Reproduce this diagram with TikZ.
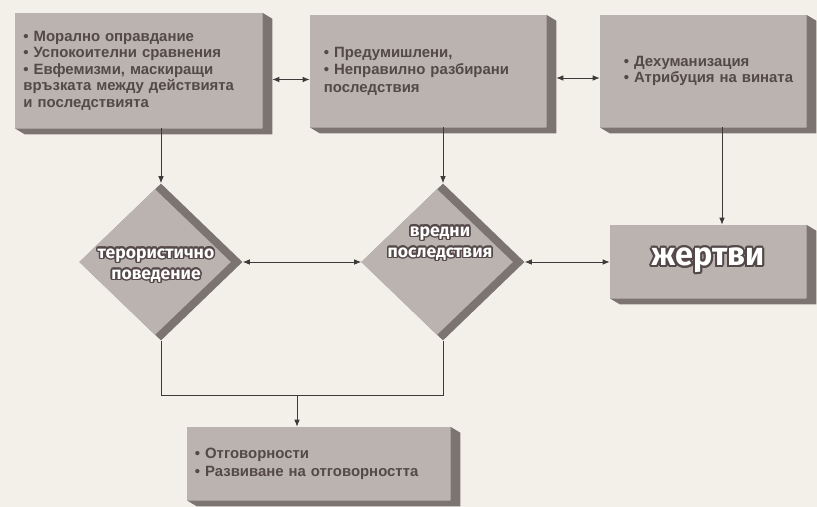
\documentclass[tikz,border=0pt]{standalone}
\usepackage{fontspec}
\setmainfont{Liberation Sans}
\newfontfamily\dfont{Fira Sans}
\usepackage{contour}
\usetikzlibrary{arrows.meta,shapes.geometric,calc,positioning}

\definecolor{paper}{HTML}{F3F0EA}
\definecolor{face}{HTML}{BAB3AF}
\definecolor{sidec}{HTML}{7C7470}
\definecolor{ink}{HTML}{544849}
\definecolor{linec}{HTML}{3F3A3A}

\contourlength{1.1pt}
\newcommand{\outl}[1]{\contour{ink}{#1}}

\begin{document}
\begin{tikzpicture}[x=0.025cm,y=-0.025cm,
	panel/.style={rectangle,fill=face,text=ink,font=\bfseries\fontsize{10.6}{11.7}\selectfont,align=left,inner ysep=0pt},
	dia/.style={diamond,fill=sidec,inner sep=0pt,minimum width=4.075cm,minimum height=3.925cm},
	dtext/.style={text=white,font=\dfont\bfseries\fontsize{12.5}{15}\selectfont,align=center},
	arr/.style={draw=linec,line width=0.6pt,-{Latex[length=5pt,width=4pt]}},
	dbl/.style={draw=linec,line width=0.6pt,{Latex[length=5pt,width=4pt]}-{Latex[length=5pt,width=4pt]}}]
	\fill[paper] (0,0) rectangle (817,507);
	\useasboundingbox (0,0) rectangle (817,507);
	% top row
	\node[panel,minimum width=6.175cm,minimum height=2.875cm,text width=5.75cm,inner xsep=0.2125cm] (b1) at (138.5,70.5)
		{• Морално оправдание\\• Успокоителни сравнения\\• Евфемизми, маскиращи\\връзката между действията\\и последствията};
	\node[panel,minimum width=5.9cm,minimum height=2.8cm,text width=5.2cm,inner xsep=0.35cm,font=\bfseries\fontsize{10.6}{12.4}\selectfont] (b2) at (428,71)
		{• Предумишлени,\\• Неправилно разбирани\\последствия};
	\node[panel,minimum width=5.15cm,minimum height=2.8cm,text width=3.95cm,inner xsep=0.6cm] (b3) at (703,71)
		{\mbox{• Дехуманизация}\\\mbox{• Атрибуция на вината}};
	% middle and bottom
	\node[panel,minimum width=4.9cm,minimum height=1.825cm,align=center,text=white,font=\dfont\bfseries\fontsize{23}{26}\selectfont] (v) at (708,261.5)
		{\contourlength{1.4pt}\outl{жертви}};
	\node[panel,minimum width=6.575cm,minimum height=1.825cm,text width=6.175cm,inner xsep=0.2cm,font=\bfseries\fontsize{10.6}{12.8}\selectfont] (b4) at (318.5,463.5)
		{• Отговорности\\• Развиване на отговорността};
	\foreach \n in {b1,b2,b3,v,b4}
		\fill[sidec] (\n.north east) -- ($(\n.north east)+(10,6)$) -- ($(\n.south east)+(10,6)$) -- ($(\n.south west)+(10,6)$) -- (\n.south west) -- (\n.south east) -- cycle;
	\node[dia] (d1) at (161,262) {};
	\node[dia] (d2) at (443,262) {};
	\foreach \n in {d1,d2}
		\fill[face] (\n.west) -- ($(\n.north)+(-6,6)$) -- ($(\n.east)+(-12,0)$) -- ($(\n.south)+(-6,-6)$) -- cycle;
	\node[dtext] (t1) at (156,266) {\outl{терористично}\\\outl{поведение}};
	\node[dtext] (t2) at (440,244) {\outl{вредни}\\\outl{последствия}};
	% connectors
	\draw[dbl] ($(b1.east)+(10,9)$) coordinate (h1) -- (h1 -| b2.west);
	\draw[dbl] ($(b2.east)+(10,7)$) coordinate (h2) -- (h2 -| b3.west);
	\draw[arr] (d1.north |- b1.south) -- (d1.north);
	\draw[arr] (d2.north |- b2.south) -- (d2.north);
	\coordinate (a3) at ($(b3.south)+(19,0)$);
	\draw[arr] (a3) -- (a3 |- v.north);
	\draw[dbl] (d1.east) -- (d2.west);
	\draw[dbl] (d2.east) -- (d2.east -| v.west);
	\coordinate (j) at (297,395);
	\draw[linec,line width=0.6pt] (d1.south) -- (d1.south |- j) -- (d2.south |- j) -- (d2.south);
	\draw[arr] (j) -- (j |- b4.north);
\end{tikzpicture}
\end{document}
